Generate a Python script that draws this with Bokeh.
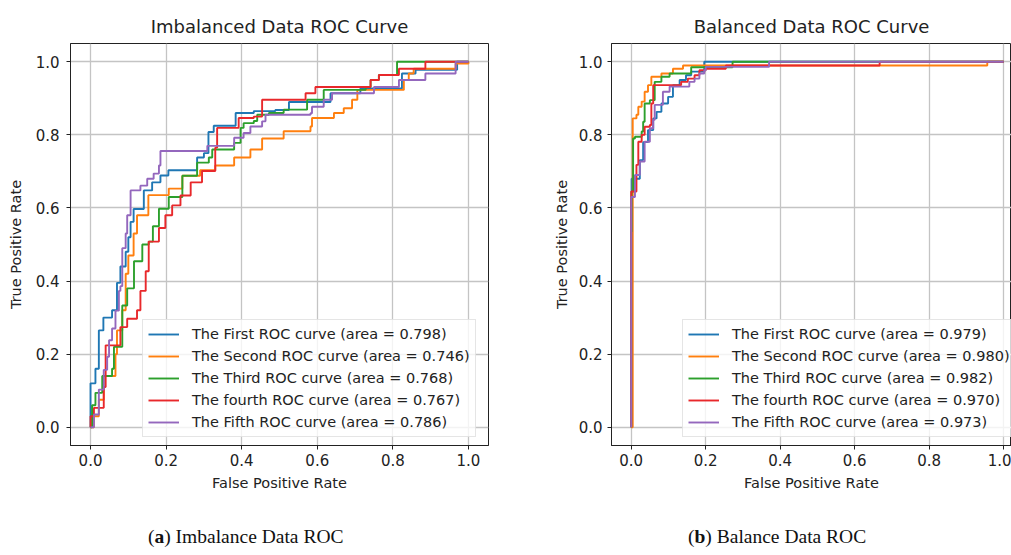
from bokeh.plotting import figure
from bokeh.models import FixedTicker, Range1d, Legend, LegendItem, Div, PrintfTickFormatter
from bokeh.layouts import row, column
from bokeh.embed import file_html
from bokeh.resources import INLINE

# ---------------- data ----------------
curve_names = ["First", "Second", "Third", "fourth", "Fifth"]
colors = ["#1f77b4", "#ff7f0e", "#2ca02c", "#e8282b", "#9467bd"]
auc_imbalanced = [0.798, 0.746, 0.768, 0.767, 0.786]
auc_balanced = [0.979, 0.980, 0.982, 0.970, 0.973]
axis_ticks = [0.0, 0.2, 0.4, 0.6, 0.8, 1.0]
captions = [("a", "Imbalance Data ROC"), ("b", "Balance Data ROC")]

# Imbalanced data ROC curves (fpr where tpr steps up, new tpr)
imb_fpr_1 = [0, 0, 0.013, 0.022, 0.034, 0.057, 0.07, 0.079, 0.093, 0.1, 0.106, 0.114, 0.141, 0.163, 0.185, 0.206, 0.282, 0.3, 0.312, 0.326, 0.384, 0.432, 0.489, 0.525, 0.635, 0.714, 0.824, 0.86, 0.97, 1.0]
imb_tpr_1 = [0, 0.12, 0.16, 0.265, 0.30, 0.32, 0.395, 0.44, 0.48, 0.52, 0.562, 0.597, 0.648, 0.67, 0.689, 0.703, 0.738, 0.75, 0.808, 0.825, 0.86, 0.865, 0.868, 0.89, 0.914, 0.927, 0.968, 0.978, 1.0, 1.0]

imb_fpr_2 = [0, 0.009, 0.022, 0.035, 0.066, 0.07, 0.084, 0.093, 0.10, 0.114, 0.123, 0.153, 0.207, 0.243, 0.29, 0.33, 0.38, 0.423, 0.454, 0.511, 0.582, 0.586, 0.644, 0.67, 0.692, 0.706, 0.829, 0.842, 0.855, 0.966, 1.0]
imb_tpr_2 = [0, 0.03, 0.075, 0.14, 0.20, 0.265, 0.32, 0.42, 0.47, 0.53, 0.58, 0.635, 0.653, 0.688, 0.703, 0.716, 0.738, 0.76, 0.79, 0.81, 0.823, 0.846, 0.86, 0.873, 0.896, 0.923, 0.95, 0.968, 0.981, 0.995, 1.0]

imb_fpr_3 = [0, 0.004, 0.013, 0.031, 0.057, 0.062, 0.084, 0.097, 0.115, 0.137, 0.154, 0.165, 0.181, 0.207, 0.243, 0.282, 0.313, 0.322, 0.38, 0.397, 0.405, 0.432, 0.441, 0.472, 0.511, 0.573, 0.617, 0.728, 0.741, 0.763, 0.811, 1.0]
imb_tpr_3 = [0, 0.06, 0.094, 0.14, 0.16, 0.22, 0.333, 0.38, 0.454, 0.5, 0.508, 0.55, 0.598, 0.63, 0.688, 0.724, 0.738, 0.76, 0.778, 0.819, 0.832, 0.838, 0.855, 0.86, 0.869, 0.896, 0.923, 0.931, 0.95, 0.964, 1.0, 1.0]

imb_fpr_4 = [0, 0, 0.009, 0.035, 0.04, 0.079, 0.097, 0.123, 0.132, 0.146, 0.154, 0.181, 0.198, 0.216, 0.238, 0.265, 0.295, 0.33, 0.335, 0.392, 0.432, 0.454, 0.569, 0.595, 0.741, 0.763, 0.816, 0.886, 1.0]
imb_tpr_4 = [0, 0.03, 0.053, 0.11, 0.224, 0.274, 0.297, 0.32, 0.373, 0.427, 0.508, 0.545, 0.58, 0.607, 0.634, 0.67, 0.701, 0.765, 0.819, 0.846, 0.85, 0.896, 0.914, 0.931, 0.95, 0.964, 0.981, 1.0, 1.0]

imb_fpr_5 = [0, 0.009, 0.022, 0.035, 0.044, 0.049, 0.057, 0.066, 0.075, 0.079, 0.084, 0.093, 0.097, 0.106, 0.132, 0.15, 0.167, 0.181, 0.185, 0.309, 0.38, 0.405, 0.423, 0.454, 0.463, 0.582, 0.586, 0.617, 0.639, 0.75, 0.816, 0.886, 0.966, 1.0]
imb_tpr_5 = [0, 0.035, 0.103, 0.157, 0.193, 0.238, 0.27, 0.319, 0.373, 0.386, 0.49, 0.53, 0.58, 0.648, 0.661, 0.68, 0.694, 0.716, 0.756, 0.77, 0.792, 0.805, 0.823, 0.837, 0.855, 0.859, 0.877, 0.896, 0.914, 0.931, 0.95, 0.968, 1.0, 1.0]

# Balanced data ROC curves
bal_fpr_1 = [0, 0, 0.001, 0.023, 0.032, 0.045, 0.059, 0.068, 0.081, 0.099, 0.112, 0.13, 0.147, 0.161, 0.196, 1.0]
bal_tpr_1 = [0, 0.627, 0.68, 0.731, 0.78, 0.813, 0.845, 0.863, 0.886, 0.904, 0.936, 0.95, 0.963, 0.973, 1.0, 1.0]

bal_fpr_2 = [0, 0.004, 0.004, 0.014, 0.019, 0.028, 0.036, 0.045, 0.054, 0.081, 0.112, 0.139, 0.956, 1.0]
bal_tpr_2 = [0, 0.02, 0.845, 0.855, 0.877, 0.891, 0.918, 0.936, 0.959, 0.968, 0.981, 0.99, 1.0, 1.0]

bal_fpr_3 = [0, 0, 0.001, 0.005, 0.01, 0.028, 0.032, 0.036, 0.05, 0.063, 0.081, 0.103, 0.161, 0.272, 1.0]
bal_tpr_3 = [0, 0.535, 0.645, 0.79, 0.795, 0.809, 0.836, 0.886, 0.895, 0.945, 0.959, 0.968, 0.985, 1.0, 1.0]

bal_fpr_4 = [0, 0, 0.014, 0.019, 0.028, 0.036, 0.05, 0.054, 0.059, 0.134, 0.152, 0.17, 0.183, 0.2, 0.254, 0.667, 1.0]
bal_tpr_4 = [0, 0.645, 0.718, 0.781, 0.8, 0.822, 0.827, 0.886, 0.936, 0.945, 0.954, 0.963, 0.977, 0.981, 0.99, 1.0, 1.0]

bal_fpr_5 = [0, 0, 0.01, 0.023, 0.036, 0.05, 0.059, 0.063, 0.085, 0.103, 0.156, 0.17, 0.183, 0.196, 0.2, 0.37, 1.0]
bal_tpr_5 = [0, 0.63, 0.69, 0.727, 0.781, 0.818, 0.841, 0.882, 0.918, 0.932, 0.945, 0.954, 0.968, 0.977, 0.986, 1.0, 1.0]

imb_fprs = [imb_fpr_1, imb_fpr_2, imb_fpr_3, imb_fpr_4, imb_fpr_5]
imb_tprs = [imb_tpr_1, imb_tpr_2, imb_tpr_3, imb_tpr_4, imb_tpr_5]
bal_fprs = [bal_fpr_1, bal_fpr_2, bal_fpr_3, bal_fpr_4, bal_fpr_5]
bal_tprs = [bal_tpr_1, bal_tpr_2, bal_tpr_3, bal_tpr_4, bal_tpr_5]

FONT = "DejaVu Sans"
FIG_H = 510


def make_fig(title, width, borders, x_end, fprs, tprs, aucs, legend_loc, y_standoffs):
    bl, br, bt, bb = borders
    p = figure(width=width, height=FIG_H, output_backend="svg", toolbar_location=None,
               x_range=Range1d(-0.053, x_end), y_range=Range1d(-0.05, 1.05),
               min_border_left=bl, min_border_right=br, min_border_top=bt, min_border_bottom=bb)
    p.title.text = title
    p.title.align = "center"
    p.title.text_font = FONT
    p.title.text_font_size = "18px"
    p.title.text_font_style = "normal"
    p.title.text_color = "#222222"
    if "standoff" in p.title.properties():
        p.title.standoff = 13
    p.outline_line_color = "#222222"
    p.outline_line_width = 1
    p.background_fill_color = "white"
    p.border_fill_color = "white"

    for ax in (p.xaxis[0], p.yaxis[0]):
        ax.ticker = FixedTicker(ticks=axis_ticks)
        ax.formatter = PrintfTickFormatter(format="%.1f")
        ax.major_tick_out = 4
        ax.major_tick_in = 0
        ax.minor_tick_out = 0
        ax.minor_tick_in = 0
        ax.major_tick_line_color = "#222222"
        ax.axis_line_color = "#222222"
        ax.major_label_text_font = FONT
        ax.major_label_text_font_size = "15px"
        ax.major_label_text_color = "#222222"
        ax.axis_label_text_font = FONT
        ax.axis_label_text_font_size = "14.5px"
        ax.axis_label_text_font_style = "normal"
        ax.axis_label_text_color = "#222222"
    p.xaxis.major_label_standoff = 4
    p.xaxis.axis_label_standoff = 6
    p.yaxis.major_label_standoff = y_standoffs[0]
    p.yaxis.axis_label_standoff = y_standoffs[1]
    p.xaxis.axis_label = "False Positive Rate"
    p.yaxis.axis_label = "True Positive Rate"
    p.grid.grid_line_color = "#c4c4c4"
    p.grid.grid_line_width = 1.3

    items = []
    for name, fpr, tpr, auc, col in zip(curve_names, fprs, tprs, aucs, colors):
        r = p.step(fpr, tpr, mode="after", line_color=col, line_width=1.9)
        items.append(LegendItem(label=f"The {name} ROC curve (area = {auc:.3f})", renderers=[r]))

    legend = Legend(items=items, location=legend_loc)
    legend.label_text_font = FONT
    legend.label_text_font_size = "14.5px"
    legend.label_text_color = "#222222"
    legend.glyph_width = 31
    legend.glyph_height = 18
    legend.label_height = 18
    legend.label_standoff = 13
    legend.spacing = 4
    legend.padding = 5
    legend.margin = 0
    legend.border_line_color = "#cccccc"
    legend.border_line_width = 1
    legend.background_fill_alpha = 0.8
    p.add_layout(legend)
    return p


# left panel: frame x 70..488, y 40..448 ; right panel: frame x 608..1011, y 43..445
f1 = make_fig("Imbalanced Data ROC Curve", 550, (70, 62, 40, FIG_H - 448), 1.053,
              imb_fprs, imb_tprs, auc_imbalanced, (72, 8), (7, 9))
f2 = make_fig("Balanced Data ROC Curve", 461, (58, 0, 43, FIG_H - 445), 1.021,
              bal_fprs, bal_tprs, auc_balanced, (71, 8), (5, 6))


def caption_div(letter, text, width, pad_left):
    style = ("font-family:'Liberation Serif','DejaVu Serif',serif;font-size:19.5px;color:#111;"
             f"padding-top:17px;padding-left:{pad_left}px;line-height:20px;white-space:nowrap;")
    return Div(text=f'<div style="{style}">(<b>{letter}</b>) {text}</div>',
               width=width, height=45, margin=(0, 0, 0, 0))


div_a = caption_div(captions[0][0], captions[0][1], 550, 148)
div_b = caption_div(captions[1][0], captions[1][1], 461, 138)

layout = column(row(f1, f2), row(div_a, div_b))

open("out.html", "w").write(file_html(layout, INLINE))
